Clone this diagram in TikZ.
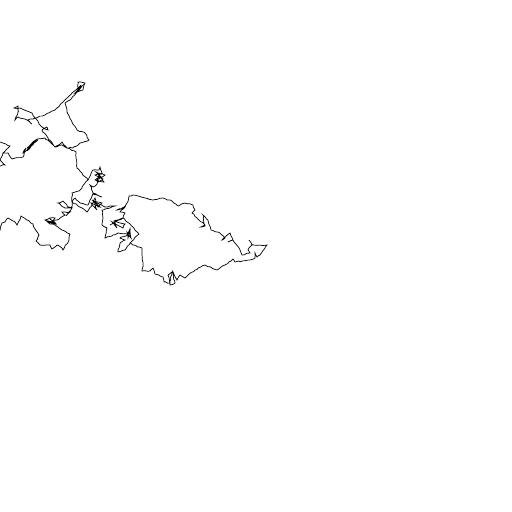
\documentclass[tikz,border=0pt]{standalone}
\usetikzlibrary{decorations.pathmorphing}
\pgfmathsetseed{4711}
\tikzset{walkline/.style={draw=black, line width=0.7pt, decorate, decoration={random steps, segment length=2.4pt, amplitude=0.55pt}}}
\begin{document}
\begin{tikzpicture}[x=1pt,y=-1pt]
        \useasboundingbox (0,0) rectangle (512,512);
        \clip (0,0) rectangle (512,512);
        % left lobe up to the first knot
        \draw[walkline] (-1,232) -- (2,223) -- (5,222) -- (8,218) -- (15,222) -- (17,225) -- (21,216) -- (27,220) -- (33,224) -- (35,229) -- (39,235) -- (36,241) -- (40,245) -- (50,245) -- (52,249) -- (57,245) -- (62,248) -- (63,250) -- (69,240) -- (70,234) -- (62,230) -- (55,225) -- (50,224) -- (45,220) -- (50,218) -- (55,218) -- (52,223) -- (48,221) -- (56,224) -- (50,219) -- (55,223) -- (49,222) -- (57,220) -- (65,215) -- (62,212) -- (70,212) -- (66,216) -- (72,208) -- (65,208) -- (58,203) -- (63,201) -- (68,207) -- (72,207) -- (72,193) -- (80,190) -- (85,183) -- (88,180) -- (77,168) -- (76,158) -- (76,152) -- (67,148) -- (62,145) -- (55,147) -- (48,138) -- (42,130) -- (47,127) -- (48,130) -- (42,127) -- (35,118) -- (32,113) -- (20,108) -- (14,108) -- (18,106) -- (18,112) -- (15,120) -- (18,117) -- (27,120) -- (32,124) -- (28,120) -- (35,118) -- (45,115) -- (55,110) -- (63,102) -- (67,98) -- (78,88) -- (78,82) -- (85,83) -- (83,90) -- (75,93) -- (81,85) -- (77,92) -- (82,86) -- (70,100) -- (65,103) -- (67,112) -- (72,122) -- (77,130) -- (85,133) -- (89,140) -- (80,143) -- (73,148) -- (67,148) -- (62,142) -- (55,147) -- (45,138) -- (37,139) -- (30,145) -- (38,140) -- (27,148) -- (36,141) -- (28,150) -- (34,143) -- (25,152) -- (23,153) -- (26,148) -- (23,157) -- (12,159) -- (8,153) -- (3,153) -- (10,146) -- (0,142);
        \draw[walkline] (3,153) -- (0,160) -- (5,165) -- (-1,166);
        % knots at the middle
        \draw[walkline] (88,180) -- (93,170) -- (99,170) -- (100,167) -- (102,173) -- (95,175) -- (103,179) -- (98,182) -- (95,180) -- (100,177) -- (96,172) -- (105,175) -- (97,180) -- (104,182) -- (99,174) -- (97,184) -- (93,187) -- (90,185) -- (93,193) -- (102,197) -- (93,194) -- (88,205) -- (80,203) -- (75,198) -- (72,202) -- (82,208) -- (87,212) -- (92,205) -- (95,198) -- (98,207) -- (102,203) -- (92,200) -- (100,207) -- (91,203) -- (97,210) -- (94,202) -- (105,207) -- (115,206) -- (102,210) -- (103,218) -- (102,225) -- (107,228) -- (105,238) -- (113,235) -- (118,233) -- (128,234) -- (130,229) -- (131,238) -- (127,232) -- (128,238) -- (130,231) -- (126,236) -- (120,238) -- (125,240) -- (120,243) -- (118,252) -- (125,250) -- (130,243) -- (139,234) -- (133,227) -- (123,218) -- (110,225) -- (115,222) -- (117,228) -- (112,222) -- (123,228) -- (125,224) -- (114,221) -- (123,218) -- (125,213) -- (120,212) -- (125,207) -- (117,210) -- (123,208) -- (127,203) -- (129,196) -- (133,195) -- (145,198) -- (153,200) -- (163,198) -- (172,201) -- (178,206) -- (185,203) -- (193,205) -- (195,210) -- (192,213) -- (197,218) -- (205,225) -- (201,227) -- (205,226) -- (203,215) -- (208,220) -- (211,230) -- (220,233) -- (225,238) -- (222,240) -- (230,233) -- (233,240) -- (228,242) -- (233,240) -- (240,250) -- (242,255) -- (250,253) -- (248,250) -- (252,245) -- (249,240) -- (253,245) -- (267,245) -- (260,255) -- (257,257) -- (255,253) -- (255,258) -- (250,260) -- (235,262) -- (233,259) -- (225,265) -- (217,270) -- (205,265) -- (195,270) -- (185,278) -- (180,275) -- (177,280) -- (173,272) -- (175,283) -- (170,285) -- (168,275) -- (172,272) -- (170,283) -- (164,282) -- (163,277) -- (155,274) -- (153,268) -- (150,271) -- (142,271) -- (143,265) -- (142,255) -- (142,248) -- (133,245) -- (130,243);
\end{tikzpicture}
\end{document}
